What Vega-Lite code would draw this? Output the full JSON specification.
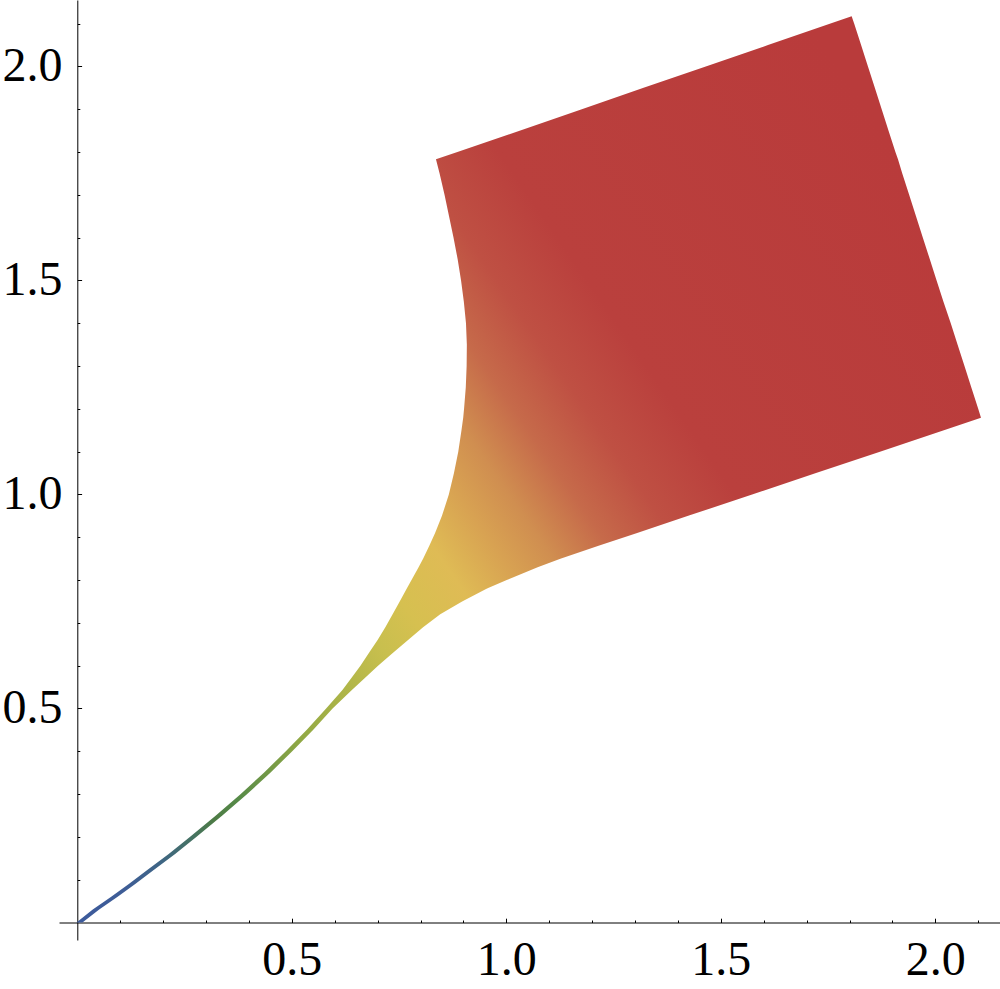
{
  "$schema": "https://vega.github.io/schema/vega-lite/v6.json",
  "width": 941,
  "height": 940,
  "autosize": {"type": "none"},
  "padding": {"left": 59, "top": 0, "right": 0, "bottom": 49},
  "background": "white",
  "config": {
    "view": {"stroke": null},
    "axis": {
      "grid": false,
      "labelFont": "Liberation Serif",
      "labelFontSize": 48,
      "labelColor": "black",
      "domainColor": "black",
      "tickColor": "black",
      "domainWidth": 1,
      "tickWidth": 1,
      "labelFlush": false,
      "labelOverlap": false,
      "title": null
    }
  },
  "data": {
    "values": [
      {"y": 0, "xl": -0.002, "xr": 0.012},
      {"y": 0.03, "xl": 0.036, "xr": 0.051},
      {"y": 0.06, "xl": 0.079, "xr": 0.094},
      {"y": 0.09, "xl": 0.120, "xr": 0.135},
      {"y": 0.12, "xl": 0.160, "xr": 0.175},
      {"y": 0.16, "xl": 0.213, "xr": 0.228},
      {"y": 0.2, "xl": 0.263, "xr": 0.278},
      {"y": 0.25, "xl": 0.323, "xr": 0.338},
      {"y": 0.3, "xl": 0.381, "xr": 0.396},
      {"y": 0.35, "xl": 0.435, "xr": 0.450},
      {"y": 0.4, "xl": 0.486, "xr": 0.501},
      {"y": 0.45, "xl": 0.535, "xr": 0.550},
      {"y": 0.5, "xl": 0.580, "xr": 0.595},
      {"y": 0.543, "xl": 0.618, "xr": 0.640},
      {"y": 0.57, "xl": 0.638, "xr": 0.669},
      {"y": 0.6, "xl": 0.660, "xr": 0.701},
      {"y": 0.63, "xl": 0.680, "xr": 0.736},
      {"y": 0.66, "xl": 0.700, "xr": 0.771},
      {"y": 0.69, "xl": 0.718, "xr": 0.806},
      {"y": 0.72, "xl": 0.735, "xr": 0.846},
      {"y": 0.75, "xl": 0.7515, "xr": 0.897},
      {"y": 0.78, "xl": 0.768, "xr": 0.955},
      {"y": 0.8, "xl": 0.779, "xr": 1.001},
      {"y": 0.83, "xl": 0.7955, "xr": 1.073},
      {"y": 0.85, "xl": 0.806, "xr": 1.126},
      {"y": 0.88, "xl": 0.8205, "xr": 1.215},
      {"y": 0.91, "xl": 0.834, "xr": 1.305},
      {"y": 0.95, "xl": 0.850, "xr": 1.424},
      {"y": 1.0, "xl": 0.866, "xr": 1.573},
      {"y": 1.05, "xl": 0.878, "xr": 1.722},
      {"y": 1.1, "xl": 0.888, "xr": 1.871},
      {"y": 1.15, "xl": 0.8955, "xr": 2.020},
      {"y": 1.179, "xl": 0.8995, "xr": 2.1065},
      {"y": 1.2, "xl": 0.9015, "xr": 2.100},
      {"y": 1.25, "xl": 0.9055, "xr": 2.084},
      {"y": 1.3, "xl": 0.9075, "xr": 2.068},
      {"y": 1.35, "xl": 0.908, "xr": 2.052},
      {"y": 1.4, "xl": 0.906, "xr": 2.036},
      {"y": 1.45, "xl": 0.901, "xr": 2.019},
      {"y": 1.5, "xl": 0.8945, "xr": 2.003},
      {"y": 1.55, "xl": 0.8865, "xr": 1.987},
      {"y": 1.6, "xl": 0.877, "xr": 1.971},
      {"y": 1.65, "xl": 0.8665, "xr": 1.955},
      {"y": 1.7, "xl": 0.856, "xr": 1.939},
      {"y": 1.75, "xl": 0.8445, "xr": 1.923},
      {"y": 1.783, "xl": 0.836, "xr": 1.913},
      {"y": 1.8, "xl": 0.886, "xr": 1.907},
      {"y": 1.85, "xl": 1.031, "xr": 1.891},
      {"y": 1.9, "xl": 1.176, "xr": 1.875},
      {"y": 1.95, "xl": 1.320, "xr": 1.859},
      {"y": 2.0, "xl": 1.465, "xr": 1.843},
      {"y": 2.05, "xl": 1.610, "xr": 1.827},
      {"y": 2.1, "xl": 1.754, "xr": 1.811},
      {"y": 2.1175, "xl": 1.805, "xr": 1.805}
    ]
  },
  "resolve": {"axis": {"x": "independent", "y": "independent"}},
  "layer": [
    {
      "mark": {
        "type": "area",
        "orient": "horizontal",
        "color": {
          "gradient": "linear",
          "x1": 0, "y1": 1, "x2": 1.012, "y2": 0.3,
          "stops": [
            {"offset": 0.0, "color": "#3c5a9c"},
            {"offset": 0.054, "color": "#3e5d96"},
            {"offset": 0.092, "color": "#3e6585"},
            {"offset": 0.129, "color": "#457262"},
            {"offset": 0.154, "color": "#4d7b45"},
            {"offset": 0.181, "color": "#568a48"},
            {"offset": 0.258, "color": "#90a844"},
            {"offset": 0.315, "color": "#aeb548"},
            {"offset": 0.365, "color": "#c8bf4e"},
            {"offset": 0.404, "color": "#d6c050"},
            {"offset": 0.455, "color": "#dfbb55"},
            {"offset": 0.5, "color": "#d8a252"},
            {"offset": 0.538, "color": "#d08e50"},
            {"offset": 0.585, "color": "#c66a4a"},
            {"offset": 0.638, "color": "#bf5043"},
            {"offset": 0.705, "color": "#ba403d"},
            {"offset": 1.0, "color": "#b93b3b"}
          ]
        }
      },
      "encoding": {
        "y": {
          "field": "y", "type": "quantitative",
          "scale": {"domain": [-0.041, 2.1553], "nice": false, "zero": false},
          "axis": {"orient": "left", "offset": -18.3, "values": [0.5, 1, 1.5, 2], "format": ".1f", "tickSize": -4.3, "labelPadding": 19.6}
        },
        "x": {
          "field": "xl", "type": "quantitative",
          "scale": {"domain": [-0.0427, 2.1508], "nice": false, "zero": false},
          "axis": {"orient": "bottom", "offset": -17.5, "values": [0.5, 1, 1.5, 2], "format": ".1f", "tickSize": -4.3, "labelPadding": 18}
        },
        "x2": {"field": "xr"}
      }
    },
    {
      "mark": {"type": "area", "orient": "horizontal", "opacity": 0},
      "encoding": {
        "y": {
          "field": "y", "type": "quantitative",
          "axis": {"orient": "left", "offset": -18.3, "values": [0.1, 0.2, 0.3, 0.4, 0.6, 0.7, 0.8, 0.9, 1.1, 1.2, 1.3, 1.4, 1.6, 1.7, 1.8, 1.9, 2.1], "labels": false, "domain": false, "tickSize": -2.5}
        },
        "x": {
          "field": "xl", "type": "quantitative",
          "axis": {"orient": "bottom", "offset": -17.5, "values": [0.1, 0.2, 0.3, 0.4, 0.6, 0.7, 0.8, 0.9, 1.1, 1.2, 1.3, 1.4, 1.6, 1.7, 1.8, 1.9, 2.1], "labels": false, "domain": false, "tickSize": -2.5}
        },
        "x2": {"field": "xr"}
      }
    }
  ]
}
